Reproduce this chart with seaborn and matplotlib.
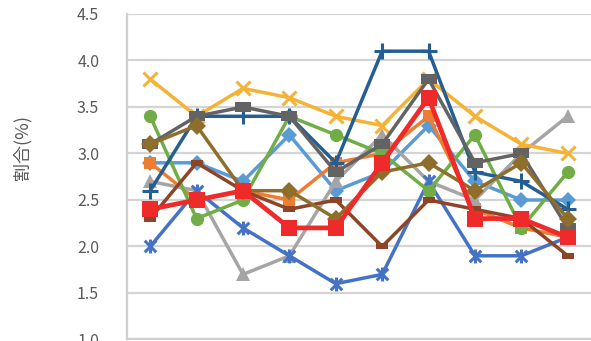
import numpy as np
import pandas as pd
import seaborn as sns
import matplotlib.pyplot as plt
from matplotlib.path import Path

# data (10 periods, 11 series)
positions = list(range(10))
s_lightblue = [2.9, 2.9, 2.7, 3.2, 2.6, 2.8, 3.3, 2.7, 2.5, 2.5]
s_orange = [2.9, 2.5, 2.6, 2.5, 2.9, 3.0, 3.4, 2.4, 2.2, 2.1]
s_gray = [2.7, 2.6, 1.7, 1.9, 2.7, 3.2, 2.7, 2.5, 3.0, 3.4]
s_gold = [3.8, 3.4, 3.7, 3.6, 3.4, 3.3, 3.8, 3.4, 3.1, 3.0]
s_blue = [2.0, 2.6, 2.2, 1.9, 1.6, 1.7, 2.7, 1.9, 1.9, 2.1]
s_green = [3.4, 2.3, 2.5, 3.4, 3.2, 3.0, 2.6, 3.2, 2.2, 2.8]
s_darkblue = [2.6, 3.4, 3.4, 3.4, 2.9, 4.1, 4.1, 2.8, 2.7, 2.4]
s_brown = [2.3, 2.9, 2.6, 2.4, 2.5, 2.0, 2.5, 2.4, 2.3, 1.9]
s_darkgray = [3.1, 3.4, 3.5, 3.4, 2.8, 3.1, 3.8, 2.9, 3.0, 2.2]
s_olive = [3.1, 3.3, 2.6, 2.6, 2.3, 2.8, 2.9, 2.6, 2.9, 2.3]
s_red = [2.4, 2.5, 2.6, 2.2, 2.2, 2.9, 3.6, 2.3, 2.3, 2.1]

yticks = [1.0, 1.5, 2.0, 2.5, 3.0, 3.5, 4.0, 4.5]

# excel-like markers
star = Path([(-1, -1), (1, 1), (-1, 1), (1, -1), (0, -1.2), (0, 1.2)],
            [Path.MOVETO, Path.LINETO, Path.MOVETO, Path.LINETO, Path.MOVETO, Path.LINETO])
dash = Path([(-1, -0.55), (1, -0.55), (1, 0.55), (-1, 0.55), (-1, -0.55)],
            [Path.MOVETO, Path.LINETO, Path.LINETO, Path.LINETO, Path.CLOSEPOLY])
bar = Path([(-1, -0.6), (1, -0.6), (1, 0.6), (-1, 0.6), (-1, -0.6)],
           [Path.MOVETO, Path.LINETO, Path.LINETO, Path.LINETO, Path.CLOSEPOLY])

series = [
    (s_lightblue, '#5B9BD5', 'D', 8, 2.5),
    (s_orange, '#ED7D31', 's', 9, 2.5),
    (s_gray, '#A5A5A5', '^', 10, 2.5),
    (s_gold, '#F5B335', 'x', 10, 2.5),
    (s_blue, '#4472C4', star, 10, 2.5),
    (s_green, '#70AD47', 'o', 9.5, 2.5),
    (s_darkblue, '#255E91', '+', 12, 2.5),
    (s_brown, '#8E4426', dash, 8, 2.5),
    (s_darkgray, '#636363', bar, 11.5, 2.5),
    (s_olive, '#8F6E2C', 'D', 9, 2.5),
    (s_red, '#EE2A2A', 's', 11, 3.4),
]

sns.set_style('white')
plt.rcParams['font.family'] = ['Noto Sans CJK JP', 'DejaVu Sans']

fig = plt.figure(figsize=(5.91, 3.41), dpi=100)
ax = fig.add_axes([0.2149, 0.0044, 0.785, 0.9546])

for vals, color, marker, msize, lw in series:
    df = pd.DataFrame({'pos': positions, 'value': vals})
    mew = 2.2 if marker in ('x', '+') or marker is star else 0
    sns.lineplot(data=df, x='pos', y='value', ax=ax, color=color, linewidth=lw,
                 marker=marker, markersize=msize, markeredgecolor=color,
                 markerfacecolor=color, markeredgewidth=mew, legend=False)

ax.set_xlim(-0.5, 9.5)
ax.set_ylim(1.0, 4.5)
ax.set_yticks(yticks)
ax.set_yticklabels([f'{t:.1f}' for t in yticks])
ax.set_xticks([])
ax.set_xlabel('')
ax.set_ylabel('')
ax.yaxis.grid(True, color='#D4D4D4', linewidth=1.6)
ax.set_axisbelow(True)
ax.tick_params(axis='y', length=0, pad=20, labelsize=11.5, labelcolor='#595959')
for side in ['top', 'right']:
    ax.spines[side].set_visible(False)
for side in ['left', 'bottom']:
    ax.spines[side].set_color('#D0D0D0')
    ax.spines[side].set_linewidth(1.6)

fig.text(0.037, 0.566, '割合(%)', rotation=90, ha='center', va='center',
         fontsize=13, color='#595959')

fig.savefig('out.png', dpi=100)
